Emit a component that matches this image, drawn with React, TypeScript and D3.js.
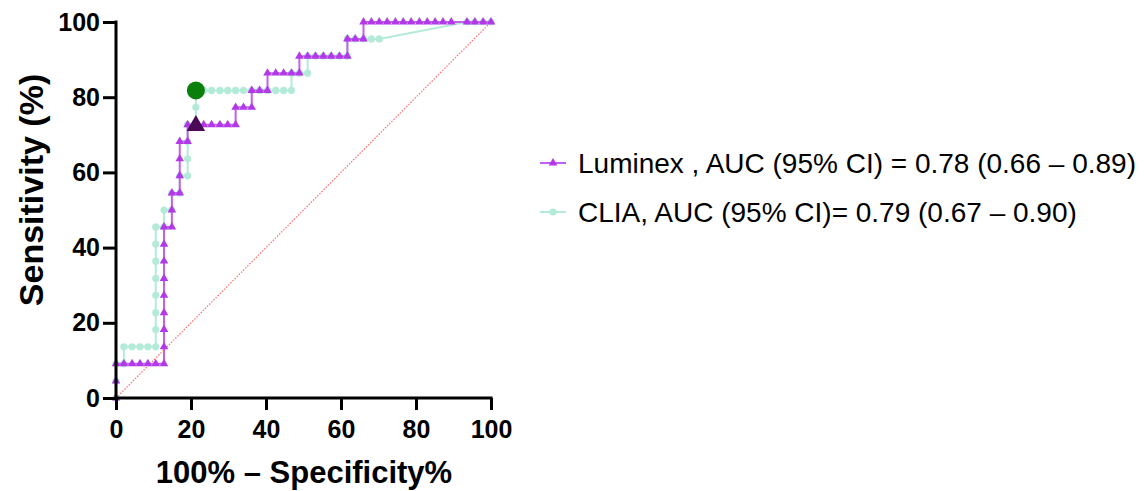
import React, { useEffect, useRef } from 'react';
import * as d3 from 'd3';

// 100% - specificity (x) and sensitivity (y)
const luminexX = [0, 0, 0, 2.1, 4.3, 6.4, 8.5, 10.6, 12.8, 12.8, 12.8, 12.8, 12.8, 12.8, 12.8, 12.8, 12.8,
  14.9, 14.9, 14.9, 17.0, 17.0, 17.0, 17.0, 19.1, 19.1, 21.3, 23.4, 25.5, 27.7, 29.8, 31.9,
  31.9, 34.0, 36.2, 36.2, 38.3, 40.4, 40.4, 42.6, 44.7, 46.8, 48.9,
  48.9, 51.1, 53.2, 55.3, 57.4, 59.6, 61.7, 61.7, 63.8, 66.0,
  66.0, 68.1, 70.2, 72.3, 74.5, 76.6, 78.7, 80.9, 83.0, 85.1, 87.2, 89.4, 93.6, 95.7, 97.9, 100];
const luminexY = [0, 4.5, 9.1, 9.1, 9.1, 9.1, 9.1, 9.1, 9.1, 13.6, 18.2, 22.7, 27.3, 31.8, 36.4, 40.9, 45.5,
  45.5, 50.0, 54.5, 54.5, 59.1, 63.6, 68.2, 68.2, 72.7, 72.7, 72.7, 72.7, 72.7, 72.7, 72.7,
  77.3, 77.3, 77.3, 81.8, 81.8, 81.8, 86.4, 86.4, 86.4, 86.4, 86.4,
  90.9, 90.9, 90.9, 90.9, 90.9, 90.9, 90.9, 95.5, 95.5, 95.5,
  100, 100, 100, 100, 100, 100, 100, 100, 100, 100, 100, 100, 100, 100, 100, 100];

const cliaX = [0, 0, 0, 2.1, 2.1, 4.3, 6.4, 8.5, 10.6, 10.6, 10.6, 10.6, 10.6, 10.6, 10.6, 10.6,
  12.8, 12.8, 14.9, 14.9, 17.0, 17.0, 19.1, 19.1, 19.1, 19.1, 21.3, 21.3, 21.3,
  23.4, 25.5, 27.7, 29.8, 31.9, 34.0, 36.2, 38.3, 40.4, 42.6, 44.7, 46.8,
  46.8, 48.9, 51.1, 51.1, 53.2, 55.3, 57.4, 59.6, 61.7, 61.7, 63.8, 66.0, 68.1, 70.2,
  93.6, 95.7, 97.9, 100];
const cliaY = [0, 4.5, 9.1, 9.1, 13.6, 13.6, 13.6, 13.6, 13.6, 18.2, 22.7, 27.3, 31.8, 36.4, 40.9, 45.5,
  45.5, 50.0, 50.0, 54.5, 54.5, 59.1, 59.1, 63.6, 68.2, 72.7, 72.7, 77.3, 81.8,
  81.8, 81.8, 81.8, 81.8, 81.8, 81.8, 81.8, 81.8, 81.8, 81.8, 81.8, 81.8,
  86.4, 86.4, 86.4, 90.9, 90.9, 90.9, 90.9, 90.9, 90.9, 95.5, 95.5, 95.5, 95.5, 95.5,
  100, 100, 100, 100];

// cut-off points
const luminexCut = [21.3, 72.7];
const cliaCut = [21.3, 81.8];

const ticks = [0, 20, 40, 60, 80, 100];
const legendLabels = [
  'Luminex , AUC (95% CI) = 0.78 (0.66 \u2013 0.89)',
  'CLIA, AUC (95% CI)= 0.79 (0.67 \u2013 0.90)',
];

const purple = '#b238e8';
const purpleLine = '#c261f0';
const mint = '#b4ebd8';

export default function App() {
  const ref = useRef<SVGSVGElement>(null);

  useEffect(() => {
    const svg = d3.select(ref.current);
    svg.selectAll('*').remove();

    const x = d3.scaleLinear().domain([0, 100]).range([116, 491]);
    const y = d3.scaleLinear().domain([0, 100]).range([398, 22]);
    const font = 'Arial, "Liberation Sans", sans-serif';

    // chance line
    svg.append('line')
      .attr('x1', x(0)).attr('y1', y(0)).attr('x2', x(100)).attr('y2', y(100))
      .attr('stroke', '#ff6b6b').attr('stroke-width', 1.2).attr('stroke-dasharray', '1.5,1.5');

    const line = d3.line<number[]>().x(d => x(d[0])).y(d => y(d[1]));

    const clia = cliaX.map((v, i) => [v, cliaY[i]]);
    const lum = luminexX.map((v, i) => [v, luminexY[i]]);

    svg.append('path').datum(clia).attr('d', line).attr('fill', 'none')
      .attr('stroke', mint).attr('stroke-width', 2);
    svg.selectAll('.clia-dot').data(clia).join('circle').attr('class', 'clia-dot')
      .attr('cx', d => x(d[0])).attr('cy', d => y(d[1])).attr('r', 3.6).attr('fill', mint);

    svg.append('path').datum(lum).attr('d', line).attr('fill', 'none')
      .attr('stroke', purpleLine).attr('stroke-width', 2);
    const tri = d3.symbol().type(d3.symbolTriangle).size(32);
    svg.selectAll('.lum-dot').data(lum).join('path').attr('class', 'lum-dot')
      .attr('transform', d => `translate(${x(d[0])},${y(d[1])})`)
      .attr('d', tri()).attr('fill', purple);

    // highlighted cut-offs
    svg.append('circle').attr('cx', x(cliaCut[0])).attr('cy', y(cliaCut[1])).attr('r', 9)
      .attr('fill', '#0b7f0b');
    svg.append('path')
      .attr('transform', `translate(${x(luminexCut[0])},${y(luminexCut[1]) + 1})`)
      .attr('d', d3.symbol().type(d3.symbolTriangle).size(150)()).attr('fill', '#4a0a58');

    // axes
    const gx = svg.append('g').attr('transform', `translate(0,${y(0)})`)
      .call(d3.axisBottom(x).tickValues(ticks).tickSize(12).tickSizeOuter(0).tickPadding(10));
    const gy = svg.append('g').attr('transform', `translate(${x(0)},0)`)
      .call(d3.axisLeft(y).tickValues(ticks).tickSize(13).tickSizeOuter(0).tickPadding(3));
    [gx, gy].forEach(g => {
      g.select('.domain').attr('stroke', '#000').attr('stroke-width', 3);
      g.selectAll('.tick line').attr('stroke', '#000').attr('stroke-width', 3);
      g.selectAll('.tick text').attr('fill', '#000').style('font-family', font)
        .style('font-size', '25px').style('font-weight', 'bold');
    });
    gx.select('.domain').attr('d', `M${x(0) - 1.5},0H${x(100) + 1.5}`);
    gy.select('.domain').attr('d', `M0,${y(100) - 1.5}V${y(0) + 1.5}`);

    // titles
    svg.append('text').attr('x', 304).attr('y', 483).attr('text-anchor', 'middle')
      .style('font-family', font).style('font-size', '31px').style('font-weight', 'bold')
      .text('100% \u2013 Specificity%');
    svg.append('text').attr('transform', 'translate(43,190) rotate(-90)').attr('text-anchor', 'middle')
      .style('font-family', font).style('font-size', '34px').style('font-weight', 'bold')
      .text('Sensitivity (%)');

    // legend
    const lg = svg.append('g');
    legendLabels.forEach((t, i) => {
      const cy = 163 + i * 49;
      const col = i === 0 ? purpleLine : mint;
      lg.append('line').attr('x1', 540).attr('x2', 566).attr('y1', cy).attr('y2', cy)
        .attr('stroke', col).attr('stroke-width', 2);
      if (i === 0) {
        lg.append('path').attr('transform', `translate(553,${cy})`).attr('d', tri()).attr('fill', purple);
      } else {
        lg.append('circle').attr('cx', 553).attr('cy', cy).attr('r', 3.6).attr('fill', mint);
      }
      lg.append('text').attr('x', 578).attr('y', cy + 10)
        .style('font-family', font).style('font-size', '28px').attr('fill', '#000').text(t);
    });
  }, []);

  return (
    <svg ref={ref} width={1145} height={491}
      style={{ position: 'absolute', left: 0, top: 0, background: '#fff' }} />
  );
}
